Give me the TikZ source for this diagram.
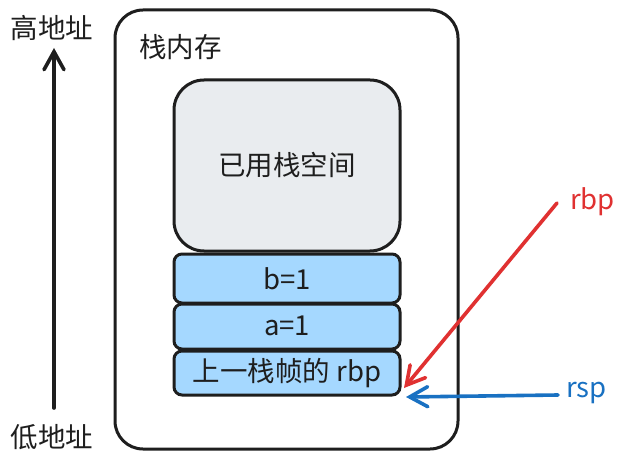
\documentclass[tikz,border=0pt]{standalone}
\usepackage{fontspec}
\setmainfont{Noto Sans CJK SC}
\usetikzlibrary{arrows.meta}
\definecolor{ink}{HTML}{1E1E1E}
\definecolor{usedgray}{HTML}{E9ECEF}
\definecolor{slotblue}{HTML}{A5D8FF}
\definecolor{rbpred}{HTML}{E03131}
\definecolor{rspblue}{HTML}{1971C2}
\tikzset{
  lbl/.style={font=\fontsize{27.5}{32}\selectfont, text=ink, inner sep=0pt},
  frame/.style={draw=ink, line width=3pt, rounded corners=28pt},
  slot/.style={draw=ink, line width=3pt, fill=slotblue, rounded corners=8pt},
  ptr/.style={line width=3.6pt, line cap=round,
    -{Straight Barb[length=18pt,width=20pt,line width=3.6pt,line cap=round]}},
}
\begin{document}
\begin{tikzpicture}[x=1pt,y=-1pt]
  \useasboundingbox[fill=white] (0,0) rectangle (623,465);

  % stack memory frame
  \draw[frame] (115,10) rectangle (458,449);
  \node[lbl, anchor=west] (title) at (139,47) {栈内存};

  % used part of the stack
  \draw[frame, fill=usedgray, rounded corners=30pt] (174,80) rectangle (400,251);
  \node[lbl] (used) at (287,165) {已用栈空间};

  % frame slots
  \draw[slot] (174,254) rectangle (400,303);
  \node[lbl] (b) at (287,279) {b=1};
  \draw[slot] (174,304) rectangle (400,349);
  \node[lbl] (a) at (287,326) {a=1};
  \draw[slot] (174,351) rectangle (400,395);
  \node[lbl] (prev) at (287,373) {上一栈帧的 rbp};

  % address direction
  \node[lbl] (high) at (52,28) {高地址};
  \node[lbl] (low) at (52,437) {低地址};
  \coordinate (lowend) at (54,408);
  \coordinate (highend) at (54,48);
  \draw[ptr, draw=ink] (lowend) -- (highend);

  % register pointers
  \node[lbl, text=rbpred, anchor=west] (rbp) at (570,202) {rbp};
  \node[lbl, text=rspblue, anchor=west] (rsp) at (566,393) {rsp};
  \coordinate (rbptail) at (557,203);
  \coordinate (rbptip) at (404,388);
  \coordinate (rsptail) at (558,395);
  \coordinate (rsptip) at (406,397);
  \draw[ptr, draw=rbpred] (rbptail) -- (rbptip);
  \draw[ptr, draw=rspblue] (rsptail) -- (rsptip);
\end{tikzpicture}
\end{document}
